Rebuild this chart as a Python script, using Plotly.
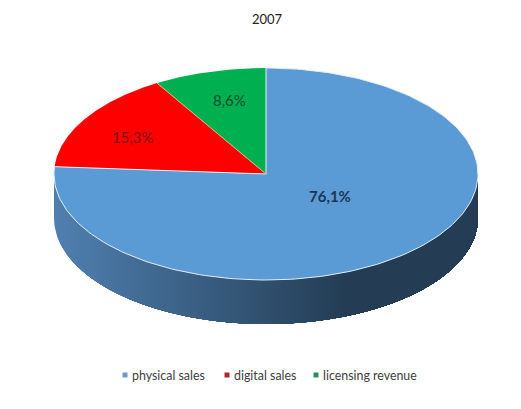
import numpy as np
import plotly.graph_objects as go

# values, clockwise from 12 o'clock
labels = ['physical sales', 'digital sales', 'licensing revenue']
shares = [76.1, 15.3, 8.6]
colors = ['#5b9bd5', '#ff0000', '#00b050']
text_colors = ['#1d3554', '#7a0c10', '#0a4a2a']
legend_colors = ['#6d9ac4', '#b5262c', '#2c8f5e']

W, H = 521, 409
cx, cy = 266, 174     # centre of the pie top
rx, ry = 212, 106     # tilted circle -> ellipse
depth = 44


def ellipse(a):
    # a = clockwise angle from 12 o'clock, radians
    return cx + rx * np.sin(a), cy - ry * np.cos(a)


def wall_color(x):
    # side shading goes from mid blue on the left to dark navy past the middle
    t = min(max((x - 54) / (345 - 54), 0), 1)
    c0, c1 = (80, 128, 176), (36, 61, 84)
    return 'rgb(%d,%d,%d)' % tuple(c0[i] + (c1[i] - c0[i]) * t for i in range(3))


fig = go.Figure()

# side wall: painted left to right, each slice covers everything still to its
# right, so there are no seams between the gradient steps
for x0 in np.arange(cx - rx, cx + rx, 3):
    a0 = np.pi + np.arcsin((cx - x0) / rx)
    aa = np.linspace(a0, np.pi / 2, 120)
    xs, ys = ellipse(aa)
    fig.add_trace(go.Scatter(
        x=np.r_[xs, xs[::-1]], y=np.r_[ys, ys[::-1] + depth],
        mode='lines', fill='toself', fillcolor=wall_color(x0),
        line=dict(width=0),
        hoverinfo='skip', showlegend=False))

# top of the pie, one ellipse sector per share
edges = np.r_[0, np.cumsum(shares)] / sum(shares) * 2 * np.pi
order = [1, 2, 0]   # blue last so its white edge stays on top
for i in order:
    aa = np.linspace(edges[i], edges[i + 1], 200)
    xs, ys = ellipse(aa)
    fig.add_trace(go.Scatter(
        x=np.r_[cx, xs, cx], y=np.r_[cy, ys, cy],
        mode='lines', fill='toself', fillcolor=colors[i],
        line=dict(color='#e6eef6', width=1) if i == 0 else dict(width=0),
        name=labels[i], showlegend=False))

# tan seam between red and green
bx, by = ellipse(edges[2])
fig.add_trace(go.Scatter(x=[cx, bx], y=[cy, by], mode='lines',
                         line=dict(color='#d9b878', width=1),
                         hoverinfo='skip', showlegend=False))

# percentage labels
label_pos = [(330, 196), (133, 137), (229, 100)]
for i, (lx, ly) in enumerate(label_pos):
    fig.add_annotation(x=lx, y=ly, text=f'{shares[i]:.1f}%'.replace('.', ','),
                       showarrow=False,
                       font=dict(family='Lato', size=15, color=text_colors[i],
                                 weight='bold' if i == 0 else 'normal'))

# legend row, drawn by hand: the built-in one leaves too wide a gap after the marker
legend_x = [125, 227, 316]
fig.add_trace(go.Scatter(
    x=legend_x, y=[375] * 3, mode='markers',
    marker=dict(symbol='square', size=5, color=legend_colors),
    hoverinfo='skip', showlegend=False))
for lx, name in zip(legend_x, labels):
    fig.add_annotation(x=lx + 5, y=375, text=name, showarrow=False, xanchor='left',
                       font=dict(family='Lato', size=12.4, color='#404040'))

fig.update_layout(
    width=W, height=H,
    margin=dict(l=0, r=0, t=0, b=0),
    paper_bgcolor='white', plot_bgcolor='white',
    showlegend=False,
    title=dict(text='2007', x=267 / W, y=1 - 19 / H, xanchor='center', yanchor='middle',
               font=dict(family='Lato', size=13, color='#222222')),
    xaxis=dict(range=[0, W], visible=False, fixedrange=True),
    yaxis=dict(range=[H, 0], visible=False, fixedrange=True),
)

# the page's default body margin would push the chart 8px off
fig.write_html("out.html", post_script="document.body.style.margin='0';",
               config={'displayModeBar': False})
